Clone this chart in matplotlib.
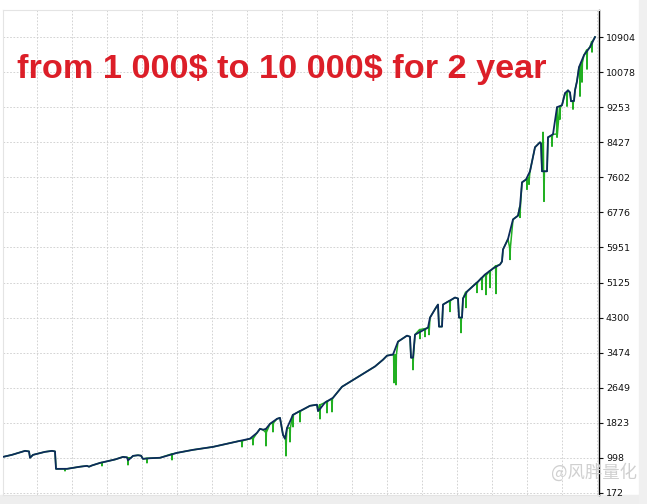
import matplotlib.pyplot as plt
import numpy as np
from matplotlib.patches import Rectangle

plt.rcParams['font.family'] = ['DejaVu Sans', 'Noto Sans CJK SC']

# balance curve (time position, $)
bal_x = [3, 12, 25, 29, 30, 33, 45, 52, 55, 56, 67, 80, 87, 89, 92, 100, 115, 123, 127, 128,
         131, 133, 138, 141, 143, 150, 160, 177, 193, 213, 240, 250, 257, 260, 263, 266, 270,
         277, 280, 283, 285, 287, 293, 300, 310, 317, 318, 320, 325, 333, 342, 360, 375, 383,
         387, 393, 398, 407, 410, 411, 413, 415, 428, 430, 436, 438, 439, 442, 443, 455, 458,
         459, 462, 463, 467, 477, 485, 493, 500, 502, 503, 508, 513, 518, 520, 522, 526, 530,
         535, 540, 541, 542, 547, 548, 553, 557, 562, 565, 568, 570, 571, 574, 575, 577, 579,
         584, 590, 595]
bal_y = [1021, 1070, 1163, 1150, 1000, 1069, 1140, 1163, 1150, 739, 740, 790, 810, 790, 820,
         880, 960, 1021, 1010, 940, 1000, 1045, 1060, 1050, 974, 990, 1000, 1116, 1187, 1257,
         1399, 1450, 1587, 1682, 1660, 1682, 1800, 1917, 1940, 1540, 1450, 1700, 2012, 2100,
         2224, 2250, 2100, 2150, 2300, 2413, 2672, 2932, 3150, 3309, 3404, 3430, 3734, 3875,
         3850, 3357, 3357, 3899, 4064, 4300, 4536, 4607, 4088, 4088, 4607, 4772, 4750, 4300,
         4300, 4750, 4913, 5125, 5314, 5456, 5550, 5621, 5904, 6150, 6611, 6700, 6918, 7484,
         7550, 7744, 8310, 8427, 8400, 7744, 7744, 8545, 8616, 9253, 9300, 9583, 9650, 9600,
         9394, 9400, 9650, 9866, 10196, 10479, 10668, 10904]

# equity spikes: position, level before spike, extreme
dip_x = [65, 102, 128, 147, 172, 242, 253, 266, 273, 286, 290, 293, 300, 320, 327, 332, 394,
         396, 413, 420, 425, 429, 450, 461, 466, 477, 482, 486, 490, 496, 510, 520, 527, 529,
         544, 543, 552, 557, 560, 567, 573, 580, 582, 587, 592]
dip_top = [740, 890, 1000, 990, 1090, 1399, 1460, 1600, 1820, 1450, 1700, 2012, 2100, 2250,
           2330, 2380, 3420, 3425, 3357, 4020, 4040, 4060, 4700, 4300, 4900, 5125, 5240, 5300,
           5400, 5520, 5950, 6900, 7560, 7600, 7744, 8400, 8580, 8620, 9253, 9583, 9400, 10196,
           10300, 10600, 10800]
dip_low = [691, 810, 833, 880, 951, 1257, 1304, 1281, 1611, 1045, 1375, 1729, 1847, 1917,
           2059, 2083, 2767, 2719, 3073, 3805, 3852, 3899, 4442, 3946, 4536, 4890, 4960, 4842,
           5007, 4866, 5668, 6658, 7319, 7437, 7036, 8663, 8333, 8545, 8970, 9276, 9206, 9512,
           9843, 10149, 10550]

tick_vals = [172, 998, 1823, 2649, 3474, 4300, 5125, 5951, 6776, 7602, 8427, 9253, 10078, 10904]

fig = plt.figure(figsize=(6.47, 5.04), dpi=100)
fig.patches.append(Rectangle((0, 0), 1, 9 / 504, transform=fig.transFigure,
                             color='#eeeeee', zorder=-5))
fig.patches.append(Rectangle((639 / 647, 0), 8 / 647, 1, transform=fig.transFigure,
                             color='#f0f0f0', zorder=-5))

ax = fig.add_axes([3 / 647, 9 / 504, 596 / 647, 485 / 504])
ax.set_xlim(3, 599)
ax.set_ylim(124, 11541)

# build equity line from balance plus spikes
ex, ey = list(bal_x), list(bal_y)
for x, t, l in zip(dip_x, dip_top, dip_low):
    ex += [x - 0.4, x, x + 0.4]
    ey += [t, l, t]
order = np.argsort(ex, kind='stable')
ex = np.array(ex)[order]
ey = np.array(ey)[order]

ax.plot(ex, ey, color='#22b022', lw=1.1, zorder=2)
ax.plot(bal_x, bal_y, color='#0d2a5c', lw=1.3, zorder=3)

ax.set_xticks(np.arange(37, 599, 35))
ax.set_xticklabels([])
ax.set_yticks(tick_vals)
ax.set_yticklabels([str(v) for v in tick_vals])
ax.yaxis.tick_right()
ax.tick_params(axis='x', length=0)
ax.tick_params(axis='y', length=3, width=0.8, labelsize=6.8, pad=2, colors='#111111')
ax.grid(True, color='#cccccc', lw=0.6, ls=(0, (2, 2)))
for s in ['left', 'top', 'bottom']:
    ax.spines[s].set_color('#e4e4e4')
ax.spines['right'].set_color('black')
ax.spines['right'].set_linewidth(1)

fig.text(17 / 647, 1 - 78 / 504, 'from 1 000$ to 10 000$ for 2 year', color='#dc1e28',
         fontsize=24.7, fontweight='bold', family='Liberation Sans', va='baseline',
         parse_math=False)
fig.text(551 / 647, 1 - 478 / 504, '@风胖量化', color='#d0d0d0', fontsize=12.5,
         family=['Noto Sans CJK SC', 'DejaVu Sans'], va='baseline')

fig.savefig('out.png', dpi=100, facecolor='white')
